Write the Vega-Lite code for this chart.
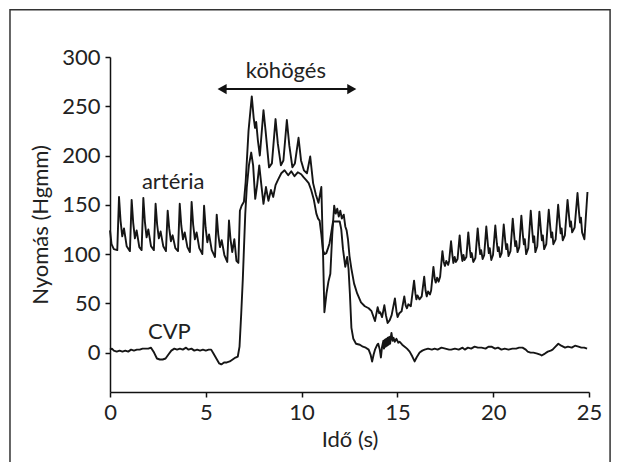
{
  "$schema": "https://vega.github.io/schema/vega-lite/v6.json",
  "width": 479,
  "height": 335,
  "autosize": {"type": "none"},
  "padding": {"left": 110, "top": 57, "right": 30, "bottom": 70},
  "background": "white",
  "config": {
    "view": {"stroke": null},
    "font": "Lato",
    "axis": {
      "labelFont": "Lato", "labelFontSize": 22, "labelColor": "#222",
      "titleFont": "Lato", "titleFontSize": 22, "titleFontWeight": "normal", "titleColor": "#222",
      "domainColor": "#111", "domainWidth": 1.5, "tickColor": "#111", "tickWidth": 1.5, "tickSize": 5,
      "grid": false
    }
  },
  "datasets": {
    "traces": [
      {"s":"artéria","t":0,"p":124},{"s":"artéria","t":0.08,"p":110},{"s":"artéria","t":0.2,"p":105},{"s":"artéria","t":0.38,"p":104},{"s":"artéria","t":0.47,"p":158},{"s":"artéria","t":0.55,"p":134},{"s":"artéria","t":0.64,"p":118},{"s":"artéria","t":0.73,"p":126},{"s":"artéria","t":0.87,"p":108},
      {"s":"artéria","t":1.04,"p":103},{"s":"artéria","t":1.13,"p":155},{"s":"artéria","t":1.21,"p":132},{"s":"artéria","t":1.30,"p":116},{"s":"artéria","t":1.39,"p":124},{"s":"artéria","t":1.53,"p":107},
      {"s":"artéria","t":1.65,"p":104},{"s":"artéria","t":1.74,"p":157},{"s":"artéria","t":1.82,"p":133},{"s":"artéria","t":1.91,"p":117},{"s":"artéria","t":2.0,"p":125},{"s":"artéria","t":2.14,"p":108},
      {"s":"artéria","t":2.29,"p":104},{"s":"artéria","t":2.38,"p":151},{"s":"artéria","t":2.46,"p":130},{"s":"artéria","t":2.55,"p":116},{"s":"artéria","t":2.64,"p":123},{"s":"artéria","t":2.78,"p":108},
      {"s":"artéria","t":2.92,"p":103},{"s":"artéria","t":3.01,"p":144},{"s":"artéria","t":3.09,"p":126},{"s":"artéria","t":3.18,"p":113},{"s":"artéria","t":3.27,"p":119},{"s":"artéria","t":3.41,"p":106},
      {"s":"artéria","t":3.55,"p":103},{"s":"artéria","t":3.64,"p":151},{"s":"artéria","t":3.72,"p":129},{"s":"artéria","t":3.81,"p":115},{"s":"artéria","t":3.9,"p":122},{"s":"artéria","t":4.04,"p":107},
      {"s":"artéria","t":4.17,"p":102},{"s":"artéria","t":4.26,"p":153},{"s":"artéria","t":4.34,"p":130},{"s":"artéria","t":4.43,"p":115},{"s":"artéria","t":4.52,"p":122},{"s":"artéria","t":4.66,"p":106},
      {"s":"artéria","t":4.82,"p":100},{"s":"artéria","t":4.91,"p":149},{"s":"artéria","t":4.99,"p":127},{"s":"artéria","t":5.08,"p":112},{"s":"artéria","t":5.17,"p":120},{"s":"artéria","t":5.31,"p":104},
      {"s":"artéria","t":5.48,"p":97},{"s":"artéria","t":5.57,"p":140},{"s":"artéria","t":5.65,"p":120},{"s":"artéria","t":5.74,"p":107},{"s":"artéria","t":5.83,"p":114},{"s":"artéria","t":5.97,"p":99},
      {"s":"artéria","t":6.12,"p":92},{"s":"artéria","t":6.21,"p":134},{"s":"artéria","t":6.29,"p":115},{"s":"artéria","t":6.38,"p":102},{"s":"artéria","t":6.49,"p":115},{"s":"artéria","t":6.6,"p":93},
      {"s":"artéria","t":6.7,"p":91},{"s":"artéria","t":6.78,"p":144},{"s":"artéria","t":6.87,"p":149},{"s":"artéria","t":6.99,"p":153},{"s":"artéria","t":7.08,"p":173},{"s":"artéria","t":7.23,"p":225},{"s":"artéria","t":7.4,"p":260},
      {"s":"artéria","t":7.5,"p":238},{"s":"artéria","t":7.57,"p":228},{"s":"artéria","t":7.63,"p":234},{"s":"artéria","t":7.72,"p":215},{"s":"artéria","t":7.82,"p":200},{"s":"artéria","t":8.01,"p":246},{"s":"artéria","t":8.12,"p":225},{"s":"artéria","t":8.3,"p":188},{"s":"artéria","t":8.45,"p":192},
      {"s":"artéria","t":8.64,"p":237},{"s":"artéria","t":8.76,"p":212},{"s":"artéria","t":8.92,"p":190},{"s":"artéria","t":9.05,"p":195},{"s":"artéria","t":9.23,"p":236},{"s":"artéria","t":9.36,"p":210},{"s":"artéria","t":9.52,"p":188},{"s":"artéria","t":9.65,"p":192},
      {"s":"artéria","t":9.84,"p":218},{"s":"artéria","t":9.97,"p":195},{"s":"artéria","t":10.12,"p":185},{"s":"artéria","t":10.28,"p":182},{"s":"artéria","t":10.45,"p":199},{"s":"artéria","t":10.6,"p":172},{"s":"artéria","t":10.75,"p":160},{"s":"artéria","t":10.88,"p":152},{"s":"artéria","t":11.03,"p":168},
      {"s":"artéria","t":11.12,"p":100},{"s":"artéria","t":11.19,"p":41},{"s":"artéria","t":11.3,"p":60},{"s":"artéria","t":11.4,"p":72},{"s":"artéria","t":11.5,"p":80},{"s":"artéria","t":11.6,"p":120},{"s":"artéria","t":11.7,"p":149},{"s":"artéria","t":11.78,"p":141},{"s":"artéria","t":11.86,"p":146},
      {"s":"artéria","t":11.94,"p":138},{"s":"artéria","t":12.02,"p":144},{"s":"artéria","t":12.1,"p":136},{"s":"artéria","t":12.2,"p":140},{"s":"artéria","t":12.28,"p":128},{"s":"artéria","t":12.35,"p":124},{"s":"artéria","t":12.42,"p":115},{"s":"artéria","t":12.5,"p":98},{"s":"artéria","t":12.6,"p":85},
      {"s":"artéria","t":12.74,"p":70},{"s":"artéria","t":12.9,"p":60},{"s":"artéria","t":13.1,"p":51},{"s":"artéria","t":13.3,"p":47},{"s":"artéria","t":13.5,"p":45},{"s":"artéria","t":13.65,"p":42},
      {"s":"artéria","t":13.83,"p":32},{"s":"artéria","t":13.97,"p":46},{"s":"artéria","t":14.05,"p":40},{"s":"artéria","t":14.1,"p":41},{"s":"artéria","t":14.2,"p":36},{"s":"artéria","t":14.32,"p":48},{"s":"artéria","t":14.4,"p":38},{"s":"artéria","t":14.49,"p":30},{"s":"artéria","t":14.6,"p":33},{"s":"artéria","t":14.7,"p":38},
      {"s":"artéria","t":14.87,"p":55},{"s":"artéria","t":14.95,"p":42},{"s":"artéria","t":15.01,"p":36},{"s":"artéria","t":15.1,"p":40},{"s":"artéria","t":15.22,"p":42},{"s":"artéria","t":15.36,"p":57},{"s":"artéria","t":15.43,"p":48},{"s":"artéria","t":15.5,"p":45},{"s":"artéria","t":15.57,"p":49},{"s":"artéria","t":15.7,"p":47},
      {"s":"artéria","t":15.87,"p":73},{"s":"artéria","t":15.94,"p":60},{"s":"artéria","t":15.99,"p":54},{"s":"artéria","t":16.05,"p":58},{"s":"artéria","t":16.15,"p":54},{"s":"artéria","t":16.27,"p":57},{"s":"artéria","t":16.4,"p":77},{"s":"artéria","t":16.47,"p":63},{"s":"artéria","t":16.53,"p":57},{"s":"artéria","t":16.6,"p":62},{"s":"artéria","t":16.7,"p":59},{"s":"artéria","t":16.76,"p":63},
      {"s":"artéria","t":16.88,"p":87},{"s":"artéria","t":16.95,"p":75},{"s":"artéria","t":17.0,"p":71},{"s":"artéria","t":17.07,"p":76},{"s":"artéria","t":17.15,"p":72},{"s":"artéria","t":17.23,"p":77},{"s":"artéria","t":17.35,"p":103},{"s":"artéria","t":17.42,"p":92},{"s":"artéria","t":17.48,"p":88},{"s":"artéria","t":17.55,"p":93},{"s":"artéria","t":17.65,"p":89},{"s":"artéria","t":17.7,"p":93},
      {"s":"artéria","t":17.8,"p":113},{"s":"artéria","t":17.87,"p":99},{"s":"artéria","t":17.92,"p":91},{"s":"artéria","t":17.99,"p":97},{"s":"artéria","t":18.05,"p":92},{"s":"artéria","t":18.14,"p":95},{"s":"artéria","t":18.25,"p":119},{"s":"artéria","t":18.32,"p":103},{"s":"artéria","t":18.39,"p":93},{"s":"artéria","t":18.45,"p":99},{"s":"artéria","t":18.5,"p":94},{"s":"artéria","t":18.6,"p":97},
      {"s":"artéria","t":18.7,"p":122},{"s":"artéria","t":18.78,"p":105},{"s":"artéria","t":18.83,"p":97},{"s":"artéria","t":18.88,"p":101},{"s":"artéria","t":18.96,"p":92},{"s":"artéria","t":19.07,"p":96},{"s":"artéria","t":19.19,"p":126},{"s":"artéria","t":19.27,"p":108},{"s":"artéria","t":19.32,"p":100},{"s":"artéria","t":19.37,"p":104},{"s":"artéria","t":19.45,"p":95},{"s":"artéria","t":19.53,"p":99},
      {"s":"artéria","t":19.64,"p":128},{"s":"artéria","t":19.72,"p":110},{"s":"artéria","t":19.77,"p":101},{"s":"artéria","t":19.82,"p":106},{"s":"artéria","t":19.9,"p":94},{"s":"artéria","t":19.99,"p":99},{"s":"artéria","t":20.11,"p":129},{"s":"artéria","t":20.19,"p":111},{"s":"artéria","t":20.24,"p":103},{"s":"artéria","t":20.29,"p":107},{"s":"artéria","t":20.36,"p":97},{"s":"artéria","t":20.44,"p":101},
      {"s":"artéria","t":20.55,"p":130},{"s":"artéria","t":20.63,"p":113},{"s":"artéria","t":20.68,"p":105},{"s":"artéria","t":20.73,"p":110},{"s":"artéria","t":20.8,"p":98},{"s":"artéria","t":20.9,"p":103},{"s":"artéria","t":21.02,"p":136},{"s":"artéria","t":21.1,"p":118},{"s":"artéria","t":21.15,"p":108},{"s":"artéria","t":21.2,"p":113},{"s":"artéria","t":21.27,"p":102},{"s":"artéria","t":21.36,"p":107},
      {"s":"artéria","t":21.47,"p":139},{"s":"artéria","t":21.55,"p":119},{"s":"artéria","t":21.6,"p":110},{"s":"artéria","t":21.65,"p":115},{"s":"artéria","t":21.72,"p":100},{"s":"artéria","t":21.83,"p":106},{"s":"artéria","t":21.96,"p":144},{"s":"artéria","t":22.04,"p":123},{"s":"artéria","t":22.09,"p":112},{"s":"artéria","t":22.14,"p":118},{"s":"artéria","t":22.2,"p":102},{"s":"artéria","t":22.3,"p":108},
      {"s":"artéria","t":22.41,"p":143},{"s":"artéria","t":22.49,"p":124},{"s":"artéria","t":22.54,"p":114},{"s":"artéria","t":22.59,"p":119},{"s":"artéria","t":22.66,"p":105},{"s":"artéria","t":22.77,"p":110},{"s":"artéria","t":22.9,"p":145},{"s":"artéria","t":22.98,"p":127},{"s":"artéria","t":23.03,"p":117},{"s":"artéria","t":23.08,"p":122},{"s":"artéria","t":23.14,"p":110},{"s":"artéria","t":23.26,"p":115},
      {"s":"artéria","t":23.39,"p":150},{"s":"artéria","t":23.47,"p":131},{"s":"artéria","t":23.52,"p":121},{"s":"artéria","t":23.57,"p":126},{"s":"artéria","t":23.63,"p":114},{"s":"artéria","t":23.74,"p":119},{"s":"artéria","t":23.88,"p":155},{"s":"artéria","t":23.96,"p":138},{"s":"artéria","t":24.01,"p":128},{"s":"artéria","t":24.06,"p":133},{"s":"artéria","t":24.12,"p":122},{"s":"artéria","t":24.25,"p":127},
      {"s":"artéria","t":24.4,"p":162},{"s":"artéria","t":24.48,"p":142},{"s":"artéria","t":24.53,"p":132},{"s":"artéria","t":24.58,"p":137},{"s":"artéria","t":24.64,"p":122},{"s":"artéria","t":24.76,"p":115},{"s":"artéria","t":24.92,"p":163},

      {"s":"CVP","t":0,"p":3},{"s":"CVP","t":0.1,"p":4},{"s":"CVP","t":0.2,"p":2},{"s":"CVP","t":0.35,"p":1},{"s":"CVP","t":0.5,"p":2},{"s":"CVP","t":0.65,"p":1},{"s":"CVP","t":0.8,"p":2},{"s":"CVP","t":0.95,"p":1},{"s":"CVP","t":1.1,"p":3},{"s":"CVP","t":1.25,"p":2},{"s":"CVP","t":1.4,"p":3},{"s":"CVP","t":1.55,"p":3},{"s":"CVP","t":1.7,"p":4},{"s":"CVP","t":1.85,"p":4},{"s":"CVP","t":2.0,"p":4},{"s":"CVP","t":2.14,"p":5},
      {"s":"CVP","t":2.3,"p":0},{"s":"CVP","t":2.45,"p":-6},{"s":"CVP","t":2.6,"p":-7},{"s":"CVP","t":2.75,"p":-7},{"s":"CVP","t":2.9,"p":-6},{"s":"CVP","t":3.05,"p":-2},{"s":"CVP","t":3.2,"p":2},{"s":"CVP","t":3.36,"p":4},{"s":"CVP","t":3.5,"p":3},{"s":"CVP","t":3.65,"p":4},{"s":"CVP","t":3.8,"p":3},{"s":"CVP","t":3.97,"p":5},{"s":"CVP","t":4.1,"p":3},{"s":"CVP","t":4.25,"p":4},{"s":"CVP","t":4.4,"p":2},{"s":"CVP","t":4.55,"p":3},{"s":"CVP","t":4.7,"p":2},{"s":"CVP","t":4.85,"p":3},{"s":"CVP","t":5.0,"p":2},{"s":"CVP","t":5.15,"p":3},{"s":"CVP","t":5.28,"p":3},
      {"s":"CVP","t":5.4,"p":-1},{"s":"CVP","t":5.55,"p":-6},{"s":"CVP","t":5.7,"p":-11},{"s":"CVP","t":5.81,"p":-12},{"s":"CVP","t":5.95,"p":-10},{"s":"CVP","t":6.1,"p":-10},{"s":"CVP","t":6.25,"p":-9},{"s":"CVP","t":6.4,"p":-7},{"s":"CVP","t":6.55,"p":-5},{"s":"CVP","t":6.67,"p":-4},
      {"s":"CVP","t":6.76,"p":6},{"s":"CVP","t":6.85,"p":40},{"s":"CVP","t":6.93,"p":74},{"s":"CVP","t":7.06,"p":141},{"s":"CVP","t":7.14,"p":168},{"s":"CVP","t":7.25,"p":190},{"s":"CVP","t":7.37,"p":203},{"s":"CVP","t":7.47,"p":190},{"s":"CVP","t":7.58,"p":156},{"s":"CVP","t":7.68,"p":170},{"s":"CVP","t":7.79,"p":190},{"s":"CVP","t":7.9,"p":170},{"s":"CVP","t":8.01,"p":151},{"s":"CVP","t":8.14,"p":168},{"s":"CVP","t":8.27,"p":154},{"s":"CVP","t":8.4,"p":165},{"s":"CVP","t":8.52,"p":158},
      {"s":"CVP","t":8.64,"p":170},{"s":"CVP","t":8.76,"p":175},{"s":"CVP","t":8.94,"p":182},{"s":"CVP","t":9.11,"p":185},{"s":"CVP","t":9.3,"p":180},{"s":"CVP","t":9.46,"p":184},{"s":"CVP","t":9.63,"p":179},{"s":"CVP","t":9.8,"p":183},{"s":"CVP","t":9.98,"p":181},{"s":"CVP","t":10.1,"p":178},{"s":"CVP","t":10.24,"p":175},{"s":"CVP","t":10.37,"p":172},{"s":"CVP","t":10.5,"p":165},{"s":"CVP","t":10.64,"p":155},{"s":"CVP","t":10.77,"p":141},{"s":"CVP","t":10.86,"p":136},{"s":"CVP","t":10.94,"p":134},
      {"s":"CVP","t":11.03,"p":120},{"s":"CVP","t":11.11,"p":104},{"s":"CVP","t":11.2,"p":100},{"s":"CVP","t":11.29,"p":101},{"s":"CVP","t":11.38,"p":106},{"s":"CVP","t":11.46,"p":111},{"s":"CVP","t":11.55,"p":122},{"s":"CVP","t":11.64,"p":133},{"s":"CVP","t":11.8,"p":133},{"s":"CVP","t":11.99,"p":133},{"s":"CVP","t":12.07,"p":125},{"s":"CVP","t":12.16,"p":105},{"s":"CVP","t":12.28,"p":87},{"s":"CVP","t":12.38,"p":97},{"s":"CVP","t":12.45,"p":85},{"s":"CVP","t":12.52,"p":60},{"s":"CVP","t":12.6,"p":25},
      {"s":"CVP","t":12.7,"p":14},{"s":"CVP","t":12.84,"p":9},{"s":"CVP","t":13.04,"p":8},{"s":"CVP","t":13.2,"p":6},{"s":"CVP","t":13.35,"p":5},{"s":"CVP","t":13.5,"p":3},{"s":"CVP","t":13.6,"p":-2},{"s":"CVP","t":13.68,"p":-9},{"s":"CVP","t":13.76,"p":-2},{"s":"CVP","t":13.83,"p":3},{"s":"CVP","t":13.95,"p":8},{"s":"CVP","t":14.0,"p":9},{"s":"CVP","t":14.08,"p":3},{"s":"CVP","t":14.14,"p":-5},{"s":"CVP","t":14.2,"p":6},{"s":"CVP","t":14.27,"p":12},
      {"s":"CVP","t":14.3,"p":4},{"s":"CVP","t":14.35,"p":13},{"s":"CVP","t":14.39,"p":6},{"s":"CVP","t":14.42,"p":14},{"s":"CVP","t":14.46,"p":7},{"s":"CVP","t":14.5,"p":15},{"s":"CVP","t":14.54,"p":8},{"s":"CVP","t":14.58,"p":16},{"s":"CVP","t":14.62,"p":9},{"s":"CVP","t":14.65,"p":15},{"s":"CVP","t":14.69,"p":20},{"s":"CVP","t":14.75,"p":12},{"s":"CVP","t":14.8,"p":15},{"s":"CVP","t":14.86,"p":11},{"s":"CVP","t":14.95,"p":14},{"s":"CVP","t":15.05,"p":10},{"s":"CVP","t":15.12,"p":11},{"s":"CVP","t":15.25,"p":8},{"s":"CVP","t":15.38,"p":6},{"s":"CVP","t":15.5,"p":4},{"s":"CVP","t":15.64,"p":1},{"s":"CVP","t":15.78,"p":-4},{"s":"CVP","t":15.9,"p":-9},
      {"s":"CVP","t":16.0,"p":-5},{"s":"CVP","t":16.16,"p":0},{"s":"CVP","t":16.3,"p":2},{"s":"CVP","t":16.42,"p":3},{"s":"CVP","t":16.6,"p":4},{"s":"CVP","t":16.8,"p":3},{"s":"CVP","t":16.94,"p":4},{"s":"CVP","t":17.1,"p":3},{"s":"CVP","t":17.3,"p":5},{"s":"CVP","t":17.5,"p":4},{"s":"CVP","t":17.7,"p":3},{"s":"CVP","t":17.81,"p":3},{"s":"CVP","t":18.0,"p":4},{"s":"CVP","t":18.2,"p":3},{"s":"CVP","t":18.4,"p":5},{"s":"CVP","t":18.52,"p":3},{"s":"CVP","t":18.68,"p":5},{"s":"CVP","t":18.85,"p":4},
      {"s":"CVP","t":19.03,"p":6},{"s":"CVP","t":19.2,"p":5},{"s":"CVP","t":19.39,"p":5},{"s":"CVP","t":19.6,"p":4},{"s":"CVP","t":19.75,"p":6},{"s":"CVP","t":19.91,"p":6},{"s":"CVP","t":20.1,"p":4},{"s":"CVP","t":20.25,"p":5},{"s":"CVP","t":20.43,"p":3},{"s":"CVP","t":20.6,"p":4},{"s":"CVP","t":20.8,"p":3},{"s":"CVP","t":21.0,"p":4},{"s":"CVP","t":21.2,"p":4},{"s":"CVP","t":21.35,"p":5},{"s":"CVP","t":21.53,"p":5},{"s":"CVP","t":21.7,"p":3},{"s":"CVP","t":21.8,"p":1},
      {"s":"CVP","t":21.95,"p":0},{"s":"CVP","t":22.1,"p":0},{"s":"CVP","t":22.3,"p":-1},{"s":"CVP","t":22.45,"p":-2},{"s":"CVP","t":22.53,"p":-3},{"s":"CVP","t":22.7,"p":-1},{"s":"CVP","t":22.85,"p":1},{"s":"CVP","t":23.0,"p":2},{"s":"CVP","t":23.1,"p":3},{"s":"CVP","t":23.25,"p":6},{"s":"CVP","t":23.4,"p":9},{"s":"CVP","t":23.55,"p":7},{"s":"CVP","t":23.75,"p":5},{"s":"CVP","t":23.9,"p":6},{"s":"CVP","t":24.1,"p":5},{"s":"CVP","t":24.27,"p":7},{"s":"CVP","t":24.45,"p":6},{"s":"CVP","t":24.6,"p":5},{"s":"CVP","t":24.75,"p":5},{"s":"CVP","t":24.9,"p":4}
    ],
    "notes": [
      {"label": "köhögés", "t": 9.18, "p": 279},
      {"label": "artéria", "t": 3.3, "p": 166},
      {"label": "CVP", "t": 3.1, "p": 14}
    ]
  },
  "layer": [
    {
      "data": {"values": [{}]},
      "mark": {"type": "rect", "filled": false, "stroke": "#333", "strokeWidth": 1.5},
      "encoding": {
        "x": {"datum": -5.22, "type": "quantitative", "scale": {"domain": [0, 25], "nice": false, "zero": false}},
        "x2": {"datum": 26.1},
        "y": {"datum": 348, "type": "quantitative", "scale": {"domain": [-40, 300], "nice": false, "zero": false}},
        "y2": {"datum": -120}
      }
    },
    {
      "data": {"name": "traces"},
      "mark": {"type": "line", "strokeWidth": 1.9, "color": "#151515", "strokeJoin": "round"},
      "encoding": {
        "x": {"field": "t", "type": "quantitative", "scale": {"domain": [0, 25], "nice": false, "zero": false},
              "axis": {"values": [0, 5, 10, 15, 20, 25], "title": "Idő (s)", "labelPadding": 5, "titlePadding": 6, "labelFlush": false}},
        "y": {"field": "p", "type": "quantitative", "scale": {"domain": [-40, 300], "nice": false, "zero": false},
              "axis": {"values": [0, 50, 100, 150, 200, 250, 300], "title": "Nyomás (Hgmm)", "labelPadding": 5, "titlePadding": 9}},
        "detail": {"field": "s"}
      }
    },
    {
      "data": {"name": "notes"},
      "mark": {"type": "text", "font": "Lato", "fontSize": 22, "color": "#222", "align": "center", "baseline": "alphabetic"},
      "encoding": {
        "x": {"field": "t", "type": "quantitative"},
        "y": {"field": "p", "type": "quantitative"},
        "text": {"field": "label"}
      }
    },
    {
      "data": {"values": [{}]},
      "mark": {"type": "rule", "color": "#111", "strokeWidth": 2},
      "encoding": {
        "x": {"datum": 5.8, "type": "quantitative"},
        "x2": {"datum": 12.67},
        "y": {"datum": 267.4, "type": "quantitative"}
      }
    },
    {
      "data": {"values": [{}]},
      "mark": {"type": "point", "shape": "triangle-left", "filled": true, "size": 110, "color": "#111", "opacity": 1},
      "encoding": {
        "x": {"datum": 5.85, "type": "quantitative"},
        "y": {"datum": 267.4, "type": "quantitative"}
      }
    },
    {
      "data": {"values": [{}]},
      "mark": {"type": "point", "shape": "triangle-right", "filled": true, "size": 110, "color": "#111", "opacity": 1},
      "encoding": {
        "x": {"datum": 12.62, "type": "quantitative"},
        "y": {"datum": 267.4, "type": "quantitative"}
      }
    }
  ]
}
